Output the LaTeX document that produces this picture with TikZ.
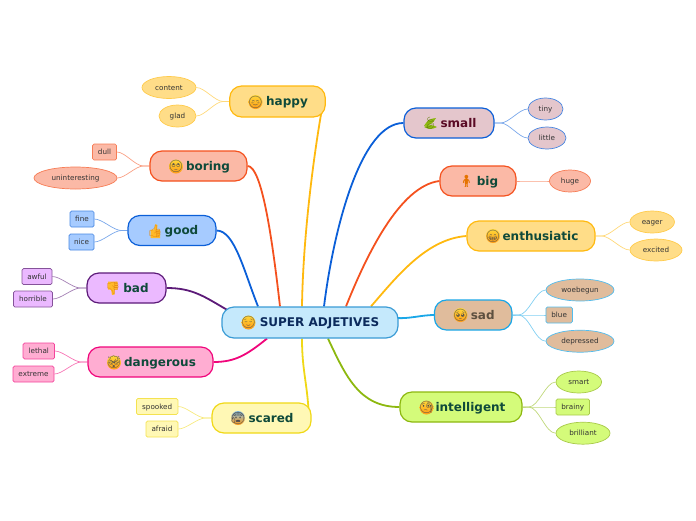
\documentclass[tikz,border=0pt]{standalone}
\usepackage{fontspec}
\setmainfont{DejaVu Sans}
\newfontfamily\emojifont{Noto Emoji}
\usetikzlibrary{shapes.geometric,backgrounds}
\definecolor{cC}{HTML}{3A9BD5}\definecolor{cCf}{HTML}{C5E9FC}
\definecolor{cY}{HTML}{FFB90F}\definecolor{cYf}{HTML}{FFDD88}
\definecolor{cR}{HTML}{F4511E}\definecolor{cRf}{HTML}{FBB9A6}
\definecolor{cB}{HTML}{0B5FD8}\definecolor{cBf}{HTML}{A6CBFF}
\definecolor{cP}{HTML}{5C1A78}\definecolor{cPf}{HTML}{EBB9FF}
\definecolor{cK}{HTML}{F0057B}\definecolor{cKf}{HTML}{FFADD2}
\definecolor{cL}{HTML}{F0D816}\definecolor{cLf}{HTML}{FFF8B5}
\definecolor{cM}{HTML}{E4C6CC}
\definecolor{cS}{HTML}{1AA7E8}\definecolor{cSf}{HTML}{E0BC9C}
\definecolor{cG}{HTML}{8DB80F}\definecolor{cGf}{HTML}{D4FB7A}
\definecolor{tG}{HTML}{0F4A3A}\definecolor{tN}{HTML}{0B2A5C}
\definecolor{tM}{HTML}{5A0A25}\definecolor{tS}{HTML}{5E5040}
\definecolor{tL}{HTML}{333333}
\definecolor{eT}{HTML}{FFD83A}\definecolor{eB}{HTML}{FF9A14}
\tikzset{
 mainbox/.style={draw=#1,line width=1.2,rounded corners=12,inner sep=0,
   minimum height=30,text=tG,font=\bfseries\fontsize{12}{14}\selectfont,
   text height=10,text depth=2,align=center},
 leafbase/.style={inner sep=0,text=tL,font=\fontsize{7.2}{9}\selectfont,
   text height=6,text depth=1,line width=.7},
 oval/.style={leafbase,ellipse,draw=#1!75,minimum height=22},
 tag/.style={leafbase,rectangle,rounded corners=1.5,draw=#1!75,minimum height=16},
 bigedge/.style={draw=#1,line width=1.8},
 smalledge/.style={draw=#1!55,line width=.7},
 facebg/.style={circle,inner sep=0,minimum size=14,top color=eT,bottom color=eB},
 glyph/.style={inner sep=0,font=\emojifont\fontsize{12}{14}\selectfont,text=#1},
}
\begin{document}
\begin{tikzpicture}[x=1pt,y=-1pt]
\useasboundingbox (0,0) rectangle (696,520);
% main nodes
\node[mainbox=cC,fill=cCf,text=tN,minimum width=176,minimum height=31] (center) at (310,322.5) {\hspace{19pt}SUPER ADJETIVES};
\node[mainbox=cY,fill=cYf,minimum width=95.5,minimum height=31] (happy) at (277.5,101.5) {\hspace{19pt}happy};
\node[mainbox=cR,fill=cRf,minimum width=97] (boring) at (198.5,166) {\hspace{19pt}boring};
\node[mainbox=cB,fill=cBf,minimum width=88] (good) at (172,230.5) {\hspace{19pt}good};
\node[mainbox=cP,fill=cPf,minimum width=79] (bad) at (126.5,288) {\hspace{19pt}bad};
\node[mainbox=cK,fill=cKf,minimum width=125] (dangerous) at (150.5,362) {\hspace{19pt}dangerous};
\node[mainbox=cL,fill=cLf,minimum width=99] (scared) at (261.5,418) {\hspace{19pt}scared};
\node[mainbox=cB,fill=cM,text=tM,minimum width=90] (small) at (449,123) {\hspace{19pt}small};
\node[mainbox=cR,fill=cRf,minimum width=76] (big) at (478,181) {\hspace{19pt}big};
\node[mainbox=cY,fill=cYf,minimum width=128] (enth) at (531,236) {\hspace{19pt}enthusiatic};
\node[mainbox=cS,fill=cSf,text=tS,minimum width=77.5] (sad) at (473.2,315) {\hspace{19pt}sad};
\node[mainbox=cG,fill=cGf,minimum width=122] (intel) at (461,407) {\hspace{19pt}intelligent};
% leaves
\node[oval=cY,fill=cYf,minimum width=54] (content) at (169,87.5) {content};
\node[oval=cY,fill=cYf,minimum width=37] (glad) at (177.5,116) {glad};
\node[tag=cR,fill=cRf,minimum width=24] (dull) at (104.5,152) {dull};
\node[oval=cR,fill=cRf,minimum width=83] (unint) at (75.5,178) {uninteresting};
\node[tag=cB,fill=cBf,minimum width=24] (fine) at (82,219) {fine};
\node[tag=cB,fill=cBf,minimum width=25] (nice) at (81.5,242) {nice};
\node[tag=cP,fill=cPf,minimum width=30] (awful) at (37,276.5) {awful};
\node[tag=cP,fill=cPf,minimum width=39] (horrible) at (33,299) {horrible};
\node[tag=cK,fill=cKf,minimum width=31.5] (lethal) at (38.8,351) {lethal};
\node[tag=cK,fill=cKf,minimum width=41] (extreme) at (33.5,374) {extreme};
\node[tag=cL,fill=cLf,minimum width=41.5] (spooked) at (157.2,406.5) {spooked};
\node[tag=cL,fill=cLf,minimum width=32] (afraid) at (162,429) {afraid};
\node[oval=cB,fill=cM,minimum width=35] (tiny) at (545.5,109) {tiny};
\node[oval=cB,fill=cM,minimum width=38] (little) at (547,138) {little};
\node[oval=cR,fill=cRf,minimum width=41] (huge) at (570,181) {huge};
\node[oval=cY,fill=cYf,minimum width=44.5] (eager) at (652.2,222) {eager};
\node[oval=cY,fill=cYf,minimum width=52] (excited) at (656,250) {excited};
\node[oval=cS,fill=cSf,minimum width=68] (woe) at (580,290) {woebegun};
\node[tag=cS,fill=cSf,minimum width=26.5] (blue) at (559.2,315) {blue};
\node[oval=cS,fill=cSf,minimum width=68] (dep) at (580,341.2) {depressed};
\node[oval=cG,fill=cGf,minimum width=45.5] (smart) at (578.8,382) {smart};
\node[tag=cG,fill=cGf,minimum width=33.5] (brainy) at (572.8,407) {brainy};
\node[oval=cG,fill=cGf,minimum width=54] (brilliant) at (583,433.2) {brilliant};
% emoji
\node[facebg] (fsuper) at (248.5,322.5) {}; \node[glyph=black!70] (gsuper) at (fsuper) {😌};
\node[facebg] (fhappy) at (255.5,102) {}; \node[glyph=black!70] (ghappy) at (fhappy) {😊};
\node[facebg] (fboring) at (176,166.5) {}; \node[glyph=black!70] (gboring) at (fboring) {🙄};
\fill[eB!50!eT] (150.5,229.5) rectangle (160,238) (154,229.5) -- (155.5,224) -- (157.5,225) -- (157,229.5) -- cycle;
\node[glyph=eB!90!black] (ggood) at (155,231) {👍};
\fill[eB!50!eT] (108,281.5) rectangle (117.5,289.5) (111,289.5) -- (112,295) -- (114.5,294.5) -- (114.5,289.5) -- cycle;
\node[glyph=eB!90!black] (gbad) at (113,288) {👎};
\node[facebg] (fdang) at (114,362.5) {}; \node[glyph=black!70] (gdang) at (fdang) {🤯};
\node[facebg,top color=cC!60,bottom color=eB] (fscared) at (238,418) {}; \node[glyph=black!70] (gscared) at (fscared) {😰};
\fill[cG] (424,126) to[bend left=30] (436,118) to[bend left=30] cycle (424,127) to[bend right=30] (437,127) to[bend right=30] cycle;
\node[glyph=cG!70!black] (gsmall) at (430,123.5) {🍃};
\node[glyph=orange!90!black] (gbig) at (466.5,181.5) {🧍};
\node[facebg] (fenth) at (493,236) {}; \node[glyph=black!70] (genth) at (fenth) {😁};
\node[facebg] (fsad) at (460.5,315) {}; \node[glyph=black!70] (gsad) at (fsad) {🥺};
\node[facebg] (fintel) at (426.5,407.5) {}; \node[glyph=black!70] (gintel) at (fintel) {🧐};
\begin{scope}[on background layer]
 % branches
 \draw[bigedge=cY] ([xshift=-8pt]center.north) .. controls +(1,-70) and +(-8,45) .. ([xshift=-4pt,yshift=8pt]happy.south east);
 \draw[bigedge=cR] (boring.east) .. controls +(14,0) and +(-8,-70) .. ([xshift=-30pt]center.north);
 \draw[bigedge=cB] (good.east) .. controls +(18,0) and +(-14,-35) .. ([xshift=-52pt]center.north);
 \draw[bigedge=cP] (bad.east) .. controls +(26,0) and +(-24,-14) .. ([xshift=-82pt,yshift=-4pt]center.north);
 \draw[bigedge=cK] (dangerous.east) .. controls +(22,0) and +(-20,16) .. ([xshift=-43pt]center.south);
 \draw[bigedge=cL] ([xshift=-8pt]center.south) .. controls +(0,30) and +(-2,-30) .. ([xshift=-3pt,yshift=-8pt]scared.north east);
 \draw[bigedge=cB] (small.west) .. controls +(-42,0) and +(10,-80) .. ([xshift=14pt]center.north);
 \draw[bigedge=cR] (big.west) .. controls +(-40,5) and +(20,-50) .. ([xshift=36pt]center.north);
 \draw[bigedge=cY] (enth.west) .. controls +(-40,3) and +(26,-30) .. ([xshift=61pt]center.north);
 \draw[bigedge=cS] (sad.west) .. controls +(-12,0) and +(12,1) .. ([yshift=4.5pt,xshift=-2pt]center.east);
 \draw[bigedge=cG] (intel.west) .. controls +(-40,0) and +(18,38) .. ([xshift=18pt]center.south);
 % leaf links
 \foreach \p/\l/\c in {happy/content/cY,happy/glad/cY,boring/dull/cR,boring/unint/cR,good/fine/cB,good/nice/cB,bad/awful/cP,bad/horrible/cP,dangerous/lethal/cK,dangerous/extreme/cK,scared/spooked/cL,scared/afraid/cL}
  \draw[smalledge=\c] (\p.west) -- ++(-6,0) to[out=180,in=0,looseness=.7] (\l.east);
 \foreach \p/\l/\c in {small/tiny/cB,small/little/cB,big/huge/cR,enth/eager/cY,enth/excited/cY,sad/woe/cS,sad/blue/cS,sad/dep/cS,intel/smart/cG,intel/brainy/cG,intel/brilliant/cG}
  \draw[smalledge=\c] (\p.east) -- ++(6,0) to[out=0,in=180,looseness=.7] (\l.west);
\end{scope}
\end{tikzpicture}
\end{document}
